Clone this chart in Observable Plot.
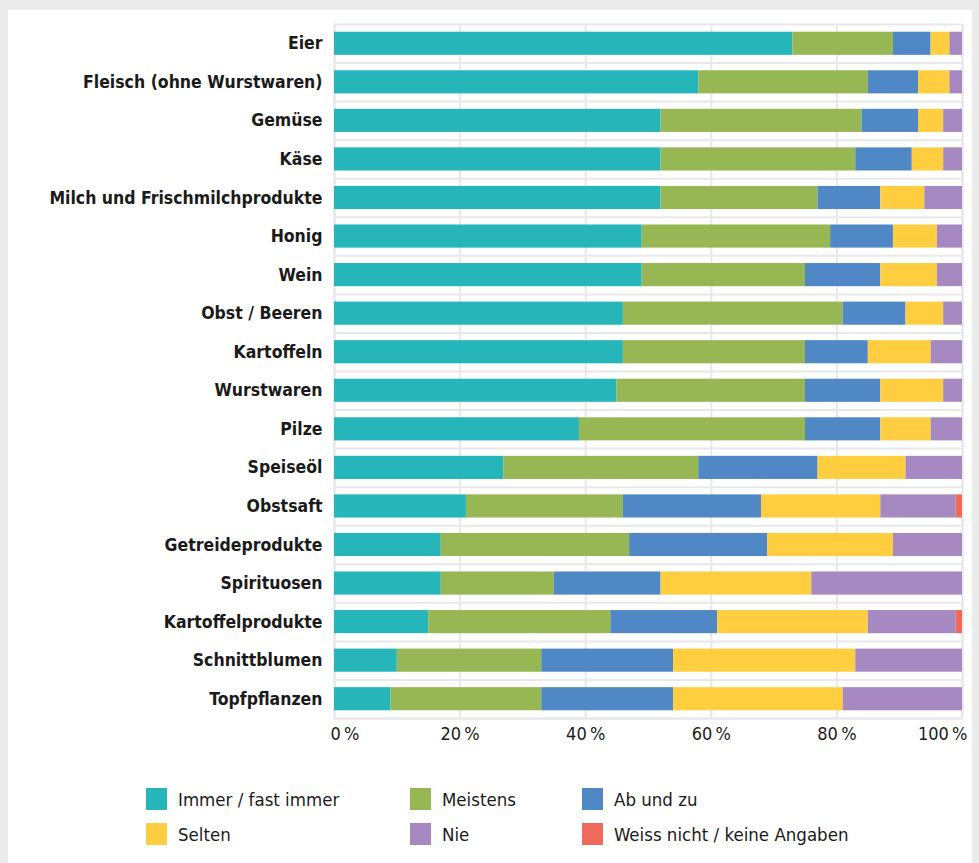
<!DOCTYPE html>
<html>
<head>
<meta charset="utf-8">
<script src="https://cdn.jsdelivr.net/npm/d3@7"></script>
<script src="https://cdn.jsdelivr.net/npm/@observablehq/plot@0.6"></script>
<style>
  html, body { margin: 0; padding: 0; background: #ebebeb; }
  body { width: 979px; height: 863px; overflow: hidden; position: relative;
         font-family: "DejaVu Sans Condensed", "DejaVu Sans", sans-serif; color: #1a1a1a; }
  #panel { position: absolute; left: 8px; top: 10px; width: 964px; height: 853px; background: #fff; }
  #chart { position: absolute; left: 0; top: 0; }
  #legend { position: absolute; left: 138px; top: 778px; display: grid;
            grid-template-columns: 264px 172px 320px; row-gap: 13px; }
  .item { display: flex; align-items: center; height: 22px; font-size: 18.5px; }
  .sw { width: 21px; height: 22px; margin-right: 11px; flex: none; }
</style>
</head>
<body>
<div id="panel">
  <div id="chart"></div>
  <div id="legend"></div>
</div>
<script>
const categories = [
  "Eier", "Fleisch (ohne Wurstwaren)", "Gemüse", "Käse", "Milch und Frischmilchprodukte",
  "Honig", "Wein", "Obst / Beeren", "Kartoffeln", "Wurstwaren", "Pilze", "Speiseöl",
  "Obstsaft", "Getreideprodukte", "Spirituosen", "Kartoffelprodukte", "Schnittblumen", "Topfpflanzen"
];
const series = ["Immer / fast immer", "Meistens", "Ab und zu", "Selten", "Nie", "Weiss nicht / keine Angaben"];
const seriesColors = ["#26b5b9", "#97b654", "#5088c5", "#fece40", "#a689c0", "#ee6b5c"];

const immer      = [73, 58, 52, 52, 52, 49, 49, 46, 46, 45, 39, 27, 21, 17, 17, 15, 10, 9];
const meistens   = [16, 27, 32, 31, 25, 30, 26, 35, 29, 30, 36, 31, 25, 30, 18, 29, 23, 24];
const abUndZu    = [ 6,  8,  9,  9, 10, 10, 12, 10, 10, 12, 12, 19, 22, 22, 17, 17, 21, 21];
const selten     = [ 3,  5,  4,  5,  7,  7,  9,  6, 10, 10,  8, 14, 19, 20, 24, 24, 29, 27];
const nie        = [ 2,  2,  3,  3,  6,  4,  4,  3,  5,  3,  5,  9, 12, 11, 24, 14, 17, 19];
const weissNicht = [ 0,  0,  0,  0,  0,  0,  0,  0,  0,  0,  0,  0,  1,  0,  0,  1,  0,  0];

const tickValues = [0, 20, 40, 60, 80, 100];
const tickLabels = ["0\u202F%", "20\u202F%", "40\u202F%", "60\u202F%", "80\u202F%", "100\u202F%"];

const seriesValues = [immer, meistens, abUndZu, selten, nie, weissNicht];
const data = [];
categories.forEach((c, i) => {
  series.forEach((s, j) => {
    data.push({category: c, series: s, order: j, value: seriesValues[j][i]});
  });
});

const W = 964, H = 748, mT = 14, mB = 40, mL = 326, mR = 10;
const step = (H - mT - mB) / categories.length;
const font = '"DejaVu Sans Condensed", "DejaVu Sans", sans-serif';
const tickLabel = (v) => tickLabels[tickValues.indexOf(v)];

const chart = Plot.plot({
  width: W, height: H,
  marginTop: mT, marginBottom: mB, marginLeft: mL, marginRight: mR,
  style: {fontFamily: font, background: "transparent", color: "#1a1a1a"},
  x: {domain: [0, 100], axis: null},
  y: {domain: categories, paddingInner: 0.4, paddingOuter: 0.2, round: false, axis: null},
  color: {domain: series, range: seriesColors},
  marks: [
    Plot.ruleX(tickValues, {x: d => d, stroke: "#e8e8ea", strokeWidth: 2}),
    Plot.ruleY(categories, {y: d => d, dy: step / 2, stroke: "#e8e8ea", strokeWidth: 2}),
    Plot.frame({stroke: "#e8e8ea", strokeWidth: 2}),
    Plot.barX(data, Plot.stackX({
      x: "value", y: "category", fill: "series", order: "order"
    })),
    Plot.text(categories, {
      y: d => d, text: d => d, frameAnchor: "left", textAnchor: "end", dx: -12,
      fontSize: 17.5, fontWeight: "bold", fill: "#1a1a1a"
    }),
    Plot.text(tickValues.filter(v => v > 0 && v < 100), {
      x: d => d, text: tickLabel, frameAnchor: "bottom", dy: 21,
      fontSize: 18, fill: "#1a1a1a"
    }),
    Plot.text([tickValues[0]], {
      x: d => d, text: tickLabel, frameAnchor: "bottom", dy: 21, dx: -4, textAnchor: "start",
      fontSize: 18, fill: "#1a1a1a"
    }),
    Plot.text([tickValues[tickValues.length - 1]], {
      x: d => d, text: tickLabel, frameAnchor: "bottom", dy: 21, dx: 5, textAnchor: "end",
      fontSize: 18, fill: "#1a1a1a"
    })
  ]
});
document.getElementById("chart").appendChild(chart);

const legend = document.getElementById("legend");
series.forEach((s, j) => {
  const item = document.createElement("div");
  item.className = "item";
  const sw = document.createElement("span");
  sw.className = "sw";
  sw.style.background = seriesColors[j];
  const label = document.createElement("span");
  label.textContent = s;
  item.appendChild(sw);
  item.appendChild(label);
  legend.appendChild(item);
});
</script>
</body>
</html>
